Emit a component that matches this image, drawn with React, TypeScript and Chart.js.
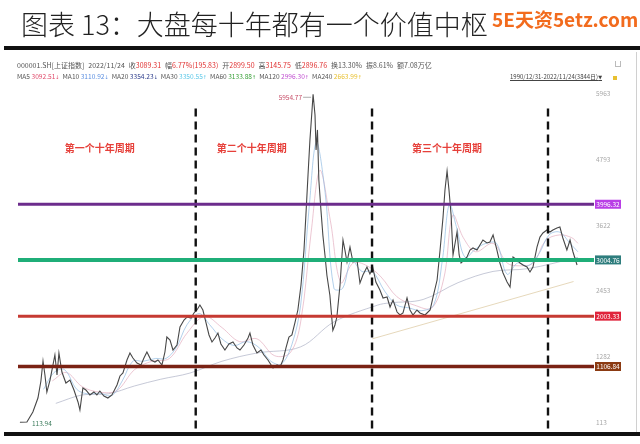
import React, { useEffect, useRef } from "react";
import { Chart, registerables } from "chart.js";
Chart.register(...registerables);

// ---------- DATA ----------
const dates = [
  1990.95, 1991.35, 1991.69, 1991.98, 1992.15, 1992.27, 1992.38, 1992.49, 1992.67, 1992.84,
  1992.95, 1993.07, 1993.18, 1993.35, 1993.58, 1993.81, 1994.04, 1994.27, 1994.38, 1994.55,
  1994.72, 1994.95, 1995.18, 1995.35, 1995.52, 1995.75, 1995.98, 1996.21, 1996.5, 1996.67,
  1996.84, 1997.07, 1997.24, 1997.41, 1997.64, 1997.87, 1998.04, 1998.21, 1998.44, 1998.67,
  1998.84, 1999.07, 1999.24, 1999.35, 1999.53, 1999.7, 1999.93, 2000.1, 2000.33, 2000.5,
  2000.73, 2000.9, 2001.07, 2001.24, 2001.41, 2001.58, 2001.76, 2001.93, 2002.1, 2002.27,
  2002.44, 2002.67, 2002.9, 2003.13, 2003.36, 2003.53, 2003.76, 2003.99, 2004.1, 2004.27,
  2004.5, 2004.73, 2004.9, 2005.13, 2005.42, 2005.65, 2005.82, 2005.99, 2006.16, 2006.33,
  2006.5, 2006.67, 2006.84, 2007.02, 2007.19, 2007.3, 2007.42, 2007.53, 2007.65, 2007.71,
  2007.82, 2007.88, 2007.96, 2008.04, 2008.16, 2008.27, 2008.39, 2008.5, 2008.67, 2008.84,
  2008.96, 2009.07, 2009.25, 2009.42, 2009.53, 2009.65, 2009.82, 2009.99, 2010.22, 2010.39,
  2010.56, 2010.79, 2010.96, 2011.13, 2011.3, 2011.53, 2011.71, 2011.94, 2012.11, 2012.28,
  2012.51, 2012.68, 2012.85, 2013.08, 2013.25, 2013.42, 2013.65, 2013.82, 2014.11, 2014.4,
  2014.57, 2014.8, 2014.97, 2015.14, 2015.25, 2015.37, 2015.48, 2015.6, 2015.71, 2015.83,
  2015.94, 2016.06, 2016.17, 2016.34, 2016.51, 2016.68, 2016.85, 2017.08, 2017.25, 2017.42,
  2017.65, 2017.82, 2018.0, 2018.22, 2018.39, 2018.57, 2018.8, 2018.97, 2019.14, 2019.37,
  2019.54, 2019.71, 2019.94, 2020.11, 2020.28, 2020.51, 2020.68, 2020.85, 2021.08, 2021.25,
  2021.42, 2021.65, 2021.82, 2021.99, 2022.22, 2022.4, 2022.57, 2022.8,
];
const closes = [
  113.94, 118, 297, 546, 849, 1205, 955, 652, 866, 1134,
  1312, 955, 1348, 1009, 813, 866, 688, 475, 333, 724,
  688, 600, 653, 600, 670, 581, 546, 600, 778, 938,
  991, 1223, 1347, 1258, 1169, 1134, 1258, 1365, 1223, 1187,
  1223, 1134, 1365, 1632, 1579, 1401, 1490, 1810, 1935, 1988,
  1970, 2060, 2113, 2202, 2113, 1899, 1668, 1543, 1614, 1703,
  1508, 1401, 1508, 1543, 1437, 1401, 1490, 1614, 1703, 1490,
  1347, 1401, 1312, 1223, 1081, 1134, 1098, 1223, 1437, 1632,
  1668, 1882, 2113, 2558, 3181, 3805, 4517, 5140, 5675, 5954.77,
  5586, 4963, 5320, 4428, 3889, 3444, 3088, 2732, 2375, 1752,
  1846, 1988, 2558, 3359, 3181, 2967, 3234, 2967, 3003, 2593,
  2736, 2879, 2754, 2861, 2611, 2468, 2327, 2345, 2166, 2291,
  2077, 2024, 2060, 2327, 2113, 2024, 2113, 2060, 2024, 2113,
  2345, 2647, 3181, 3769, 4250, 4588, 4250, 3805, 3093, 3306,
  3502, 3093, 2950, 3003, 3057, 3181, 3217, 3181, 3270, 3359,
  3306, 3324, 3449, 3181, 2950, 2772, 2611, 2522, 3057, 3003,
  2950, 2914, 2879, 2790, 2879, 3234, 3412, 3484, 3537, 3502,
  3537, 3573, 3591, 3395, 3181, 3359, 3146, 2914,
];

const maShortDates = [
  1992.3, 1992.9, 1993.5, 1994.2, 1994.8, 1995.5, 1996.2, 1996.8, 1997.4, 1998.0,
  1998.7, 1999.3, 1999.9, 2000.5, 2001.2, 2001.8, 2002.5, 2003.2, 2003.9, 2004.6,
  2005.3, 2005.9, 2006.5, 2007.0, 2007.5, 2007.9, 2008.4, 2008.9, 2009.4, 2009.9,
  2010.5, 2011.1, 2011.8, 2012.5, 2013.2, 2013.9, 2014.6, 2015.1, 2015.5, 2015.9,
  2016.4, 2017.0, 2017.6, 2018.2, 2018.8, 2019.4, 2020.0, 2020.6, 2021.2, 2021.8,
  2022.4, 2022.85,
];
const maShortValues = [
  700, 1000, 1050, 700, 620, 630, 590, 850, 1200, 1200,
  1250, 1250, 1450, 1850, 2050, 1850, 1600, 1480, 1550, 1450,
  1200, 1150, 1500, 2200, 4000, 5100, 4200, 2500, 2500, 3000,
  2800, 2800, 2450, 2200, 2150, 2100, 2200, 3000, 4000, 3600,
  3050, 3200, 3300, 3300, 2750, 2950, 2900, 3100, 3450, 3500,
  3300, 3150,
];
const maMidDates = [
  1992.8, 1993.6, 1994.5, 1995.5, 1996.5, 1997.5, 1998.5, 1999.5, 2000.5, 2001.5,
  2002.5, 2003.5, 2004.5, 2005.5, 2006.4, 2007.0, 2007.6, 2008.1, 2008.7, 2009.3,
  2010.0, 2010.8, 2011.6, 2012.5, 2013.5, 2014.5, 2015.2, 2015.7, 2016.3, 2017.0,
  2018.0, 2018.8, 2019.5, 2020.3, 2021.0, 2021.8, 2022.5, 2022.85,
];
const maMidValues = [
  850, 1000, 750, 650, 680, 1050, 1200, 1250, 1700, 2000,
  1800, 1550, 1600, 1300, 1350, 1900, 3500, 4600, 3700, 2600,
  2950, 2900, 2700, 2350, 2200, 2150, 2700, 3800, 3400, 3150,
  3300, 2950, 2900, 2950, 3350, 3450, 3400, 3300,
];
const maLongDates = [
  1993.0, 1994.5, 1996.0, 1997.5, 1999.0, 2000.67, 2002.5, 2004.5, 2007.0, 2008.9,
  2011.4, 2012.1, 2014.0, 2016.0, 2018.0, 2020.0, 2022.85,
];
const maLongValues = [
  450, 600, 620, 760, 880, 990, 1200, 1347, 1457, 1900,
  2200, 2240, 2300, 2600, 2800, 2850, 3050,
];
const trendDates = [2011.1, 2022.6];
const trendValues = [1600, 2620];

const levelValues = [3996.32, 3004.76, 2003.33, 1106.84];
const levelLineColors = ["#6c2c8c", "#1fae78", "#c63a32", "#7a2214"];
const levelBoxColors = ["#b93ee6", "#2e7d7d", "#e0243c", "#8b3a12"];
const levelWidths = [3, 4, 3, 3.5];

const cycleYears = [2001.0, 2011.08, 2021.14];
const periodLabels = ["第一个十年周期", "第二个十年周期", "第三个十年周期"];
const periodLabelYears = [1995.52, 2004.21, 2015.36];
const periodLabelValue = 5000;

const yTicks = [113, 1282, 2453, 3622, 4793, 5963];
const peakValue = 5954.77;
const peakDate = 2007.71;
const lowValue = 113.94;
const lowDate = 1990.95;

const infoLine1 = [
  { label: "000001.SH[上证指数]", value: "" },
  { label: "2022/11/24", value: "" },
  { label: "收", value: "3089.31" },
  { label: "幅", value: "6.77%(195.83)" },
  { label: "开", value: "2899.50" },
  { label: "高", value: "3145.75" },
  { label: "低", value: "2896.76" },
  { label: "换13.30%", value: "" },
  { label: "振8.61%", value: "" },
  { label: "额7.08万亿", value: "" },
];
const maNames = ["MA5", "MA10", "MA20", "MA30", "MA60", "MA120", "MA240"];
const maReadings = ["3092.51", "3110.92", "3354.23", "3350.55", "3133.88", "2996.30", "2663.99"];
const maArrows = ["↓", "↓", "↓", "↑", "↑", "↑", "↑"];
const maColors = ["#e04a6a", "#5a8ee0", "#2a3a8a", "#5cc8e8", "#3aa03a", "#c050d0", "#e8c030"];

// ---------- LAYOUT CONSTANTS ----------
const X_MIN = 1990.84;
const X_MAX = 2023.77;
const Y_MIN = -24;
const Y_MAX = 6102;
const DASH_TOP = 5700;
const DASH_BOTTOM = -80;
const CJK = '"Noto Sans CJK SC", "Noto Sans", sans-serif';

const toXY = (xs: number[], ys: number[]) => xs.map((x, i) => ({ x, y: ys[i] }));

const overlayPlugin = {
  id: "overlay",
  afterDatasetsDraw(chart: any) {
    const { ctx, chartArea, scales } = chart;
    const x = scales.x;
    const y = scales.y;
    ctx.save();
    levelValues.forEach((v, i) => {
      const py = y.getPixelForValue(v);
      const bx = chartArea.right + 1;
      const bw = 26;
      const bh = 9;
      ctx.fillStyle = levelBoxColors[i];
      ctx.fillRect(bx, py - bh / 2, bw, bh);
      ctx.fillStyle = "#ffffff";
      ctx.font = `6.5px ${CJK}`;
      ctx.textAlign = "center";
      ctx.textBaseline = "middle";
      ctx.fillText(v.toFixed(2), bx + bw / 2, py + 0.5);
    });
    ctx.font = `bold 10px ${CJK}`;
    ctx.fillStyle = "#e6403a";
    ctx.textAlign = "center";
    ctx.textBaseline = "middle";
    periodLabels.forEach((t, i) => {
      ctx.fillText(t, x.getPixelForValue(periodLabelYears[i]), y.getPixelForValue(periodLabelValue));
    });
    const px = x.getPixelForValue(peakDate);
    const py = y.getPixelForValue(peakValue);
    ctx.strokeStyle = "#999";
    ctx.lineWidth = 0.8;
    ctx.beginPath();
    ctx.moveTo(px - 10, py + 3);
    ctx.lineTo(px - 2, py + 3);
    ctx.stroke();
    ctx.font = `6.5px ${CJK}`;
    ctx.fillStyle = "#c8506a";
    ctx.textAlign = "right";
    ctx.fillText(peakValue.toFixed(2), px - 11, py + 3);
    const lx = x.getPixelForValue(lowDate);
    const ly = y.getPixelForValue(lowValue);
    ctx.fillStyle = "#3a7a5a";
    ctx.textAlign = "left";
    ctx.fillText(lowValue.toFixed(2), lx + 12, ly + 1);
    ctx.restore();
  },
};

export default function App() {
  const ref = useRef<HTMLCanvasElement>(null);
  useEffect(() => {
    document.body.style.margin = "0";
    const datasets: any[] = [];
    levelValues.forEach((v, i) => {
      datasets.push({
        data: [{ x: X_MIN, y: v }, { x: X_MAX, y: v }],
        borderColor: levelLineColors[i],
        borderWidth: levelWidths[i],
        pointRadius: 0,
        order: 0,
      });
    });
    cycleYears.forEach((yr) => {
      datasets.push({
        data: [{ x: yr, y: DASH_TOP }, { x: yr, y: DASH_BOTTOM }],
        borderColor: "#111111",
        borderWidth: 2.4,
        borderDash: [8, 5],
        pointRadius: 0,
        clip: false,
        order: 0,
      });
    });
    datasets.push({
      data: toXY(dates, closes),
      borderColor: "#474747",
      borderWidth: 1.1,
      pointRadius: 0,
      order: 1,
    });
    datasets.push({ data: toXY(maShortDates, maShortValues), borderColor: "rgba(140,185,225,0.75)", borderWidth: 0.9, pointRadius: 0, tension: 0.35, order: 2 });
    datasets.push({ data: toXY(maMidDates, maMidValues), borderColor: "rgba(225,165,185,0.7)", borderWidth: 0.9, pointRadius: 0, tension: 0.35, order: 2 });
    datasets.push({ data: toXY(maLongDates, maLongValues), borderColor: "rgba(170,175,195,0.75)", borderWidth: 0.9, pointRadius: 0, tension: 0.35, order: 2 });
    datasets.push({ data: toXY(trendDates, trendValues), borderColor: "rgba(220,200,160,0.8)", borderWidth: 0.9, pointRadius: 0, order: 2 });

    const chart = new Chart(ref.current!, {
      type: "line",
      data: { datasets },
      options: {
        animation: false,
        responsive: false,
        devicePixelRatio: window.devicePixelRatio || 1,
        layout: { padding: { left: 18, right: 28, top: 86, bottom: 14 } },
        plugins: { legend: { display: false }, tooltip: { enabled: false } },
        scales: {
          x: { type: "linear", min: X_MIN, max: X_MAX, display: false },
          y: {
            type: "linear",
            position: "right",
            min: Y_MIN,
            max: Y_MAX,
            grid: { display: false, drawTicks: false },
            border: { display: false },
            ticks: {
              font: { size: 6.5, family: CJK },
              color: "#a8a8a8",
              padding: 2,
              callback: (v: any) => String(v),
            },
            afterBuildTicks: (s: any) => {
              s.ticks = yTicks.map((v) => ({ value: v }));
            },
            afterFit: (s: any) => {
              s.width = 18;
            },
          },
        },
      },
      plugins: [overlayPlugin],
    } as any);
    return () => chart.destroy();
  }, []);

  const small: React.CSSProperties = { fontFamily: CJK, fontSize: 7, lineHeight: "9px", whiteSpace: "pre", color: "#555" };
  const arrow: React.CSSProperties = { fontFamily: '"DejaVu Sans", sans-serif', fontSize: 5 };

  return (
    <div style={{ position: "relative", width: 640, height: 444, background: "#fff", overflow: "hidden" }}>
      <canvas ref={ref} width={640} height={444} style={{ position: "absolute", left: 0, top: 0, width: 640, height: 444 }} />
      <div style={{ position: "absolute", left: 21, top: 8, fontFamily: CJK, fontWeight: 300, fontSize: 27, lineHeight: "32px", color: "#222", whiteSpace: "pre" }}>
        图表 13：大盘每十年都有一个价值中枢
      </div>
      <div style={{ position: "absolute", left: 492, top: 6, fontFamily: CJK, fontWeight: 700, fontSize: 19, lineHeight: "26px", color: "#f26b1d", whiteSpace: "pre" }}>
        5E天资5etz.com
      </div>
      <div style={{ position: "absolute", left: 4, top: 46, width: 636, height: 4, background: "#111" }} />
      <div style={{ position: "absolute", left: 4, top: 432, width: 636, height: 4, background: "#111" }} />
      <div style={{ position: "absolute", left: 636, top: 52, width: 1, height: 380, background: "#d0d0d0" }} />
      <div style={{ ...small, position: "absolute", left: 17, top: 61, display: "flex", gap: 4 }}>
        {infoLine1.map((it, i) => (
          <span key={i}>
            {it.label}
            {it.value ? <span style={{ color: "#e03030" }}>{it.value}</span> : null}
          </span>
        ))}
      </div>
      <div style={{ ...small, fontSize: 6.6, position: "absolute", left: 17, top: 72, display: "flex", gap: 3 }}>
        {maNames.map((n, i) => (
          <span key={i}>
            {n} <span style={{ color: maColors[i] }}>{maReadings[i]}<span style={arrow}>{maArrows[i]}</span></span>
          </span>
        ))}
      </div>
      <div style={{ ...small, fontSize: 6, position: "absolute", left: 510, top: 72, textDecoration: "underline", color: "#444" }}>
        1990/12/31-2022/11/24(3844日)<span style={arrow}>▼</span>
      </div>
      <div style={{ position: "absolute", left: 613, top: 76, width: 4, height: 4, background: "#e8c030" }} />
      <div style={{ position: "absolute", left: 615, top: 61, width: 4, height: 5, border: "1px solid #bbb", borderTop: "none" }} />
    </div>
  );
}
